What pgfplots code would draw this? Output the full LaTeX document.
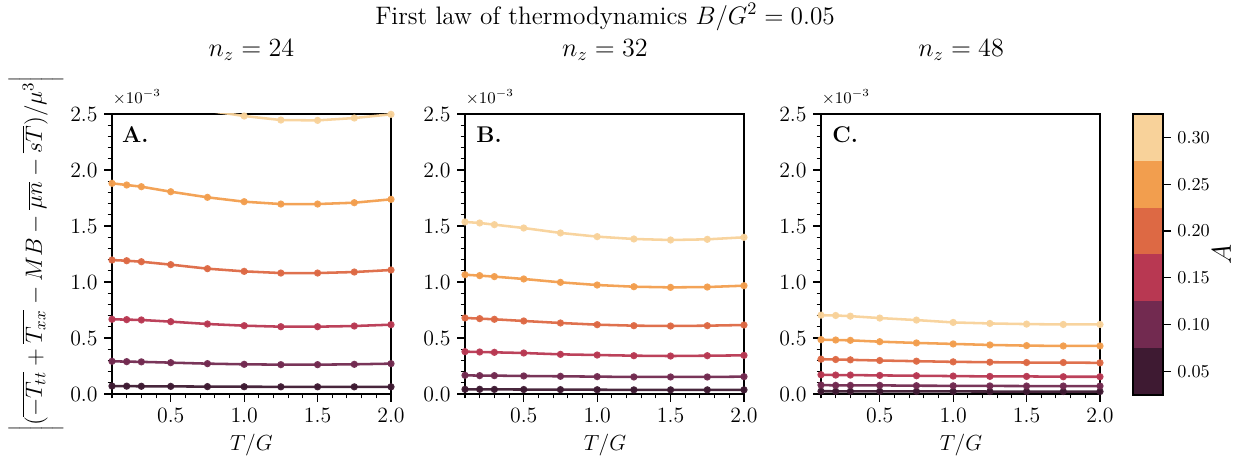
\RequirePackage{fix-cm}
\documentclass[border=0pt]{standalone}
\usepackage{pgfplots}
\usepackage{pgfplotstable}
\pgfplotsset{compat=1.18}

\definecolor{c1}{HTML}{3E1A32}
\definecolor{c2}{HTML}{722A50}
\definecolor{c3}{HTML}{B83852}
\definecolor{c4}{HTML}{DD6944}
\definecolor{c5}{HTML}{F29E4E}
\definecolor{c6}{HTML}{F8D29A}

\pgfplotstableread{
x a1 a2 a3 a4 a5 a6
0.1 0.071 0.292 0.667 1.196 1.881 2.710
0.2 0.070 0.289 0.664 1.190 1.866 2.690
0.3 0.069 0.287 0.661 1.181 1.851 2.665
0.5 0.068 0.280 0.646 1.155 1.806 2.600
0.75 0.066 0.271 0.625 1.119 1.756 2.530
1.0 0.065 0.265 0.610 1.095 1.717 2.482
1.25 0.064 0.262 0.601 1.080 1.696 2.446
1.5 0.064 0.262 0.601 1.080 1.696 2.443
1.75 0.064 0.265 0.607 1.089 1.708 2.464
2.0 0.064 0.271 0.619 1.107 1.738 2.497
}\dataA

\pgfplotstableread{
x a1 a2 a3 a4 a5 a6
0.1 0.042 0.167 0.378 0.679 1.065 1.536
0.2 0.042 0.164 0.375 0.673 1.057 1.527
0.3 0.041 0.164 0.372 0.667 1.048 1.512
0.5 0.040 0.161 0.366 0.652 1.027 1.482
0.75 0.039 0.158 0.354 0.634 0.997 1.438
1.0 0.038 0.155 0.348 0.619 0.973 1.405
1.25 0.037 0.152 0.342 0.610 0.958 1.384
1.5 0.037 0.152 0.339 0.607 0.952 1.375
1.75 0.037 0.152 0.342 0.610 0.955 1.381
2.0 0.037 0.155 0.345 0.616 0.967 1.399
}\dataB

\pgfplotstableread{
x a1 a2 a3 a4 a5 a6
0.1 0.025 0.080 0.172 0.311 0.485 0.704
0.2 0.024 0.077 0.169 0.308 0.482 0.701
0.3 0.024 0.077 0.169 0.305 0.479 0.695
0.5 0.024 0.077 0.166 0.299 0.467 0.678
0.75 0.023 0.074 0.163 0.293 0.456 0.660
1.0 0.023 0.073 0.160 0.287 0.447 0.639
1.25 0.022 0.072 0.157 0.284 0.438 0.630
1.5 0.022 0.071 0.157 0.281 0.432 0.624
1.75 0.022 0.071 0.154 0.281 0.429 0.621
2.0 0.022 0.071 0.154 0.278 0.429 0.621
}\dataC

\pgfplotsset{
  panel/.style={
    scale only axis, width=153.45pt, height=154pt, anchor=north west,
    xmin=0.1, xmax=2.0, ymin=0, ymax=2.5,
    xtick={0.5,1.0,1.5,2.0}, ytick={0,0.5,1.0,1.5,2.0,2.5},
    minor xtick={0.1,0.2,0.3,0.4,0.6,0.7,0.8,0.9,1.1,1.2,1.3,1.4,1.6,1.7,1.8,1.9},
    minor ytick={0.1,0.2,0.3,0.4,0.6,0.7,0.8,0.9,1.1,1.2,1.3,1.4,1.6,1.7,1.8,1.9,2.1,2.2,2.3,2.4},
    xtick pos=lower, ytick pos=left, tick align=outside,
    major tick length=4.4pt, minor tick length=2.4pt,
    every tick/.style={black, line width=0.6pt},
    axis line style={line width=0.8pt},
    scaled ticks=false,
    xticklabel style={/pgf/number format/fixed, /pgf/number format/fixed zerofill, /pgf/number format/precision=1},
    yticklabel style={/pgf/number format/fixed, /pgf/number format/fixed zerofill, /pgf/number format/precision=1},
    tick label style={font=\fontsize{12}{14}\selectfont},
    every axis plot/.append style={line width=1.4pt, mark=*, mark size=1.25pt, opacity=0.95},
  },
}

\begin{document}
\begin{tikzpicture}
\path[use as bounding box] (0,0) rectangle (683.1pt,-253.55pt);

\begin{axis}[panel, at={(61.6pt,-62.7pt)}]
\addplot[c1] table[x=x,y=a1]{\dataA};
\addplot[c2] table[x=x,y=a2]{\dataA};
\addplot[c3] table[x=x,y=a3]{\dataA};
\addplot[c4] table[x=x,y=a4]{\dataA};
\addplot[c5] table[x=x,y=a5]{\dataA};
\addplot[c6] table[x=x,y=a6]{\dataA};
\end{axis}

\begin{axis}[panel, at={(255.75pt,-62.7pt)}]
\addplot[c1] table[x=x,y=a1]{\dataB};
\addplot[c2] table[x=x,y=a2]{\dataB};
\addplot[c3] table[x=x,y=a3]{\dataB};
\addplot[c4] table[x=x,y=a4]{\dataB};
\addplot[c5] table[x=x,y=a5]{\dataB};
\addplot[c6] table[x=x,y=a6]{\dataB};
\end{axis}

\begin{axis}[panel, at={(451.55pt,-62.7pt)}]
\addplot[c1] table[x=x,y=a1]{\dataC};
\addplot[c2] table[x=x,y=a2]{\dataC};
\addplot[c3] table[x=x,y=a3]{\dataC};
\addplot[c4] table[x=x,y=a4]{\dataC};
\addplot[c5] table[x=x,y=a5]{\dataC};
\addplot[c6] table[x=x,y=a6]{\dataC};
\end{axis}

% colorbar
\begin{axis}[scale only axis, width=16.5pt, height=154.5pt, anchor=north west,
  at={(623.15pt,-62.7pt)},
  xmin=0, xmax=1, ymin=0.025, ymax=0.325,
  xtick=\empty, ytick={0.05,0.10,0.15,0.20,0.25,0.30},
  yticklabel pos=right, ytick pos=right, tick align=outside,
  major tick length=4.4pt, every tick/.style={black, line width=0.6pt},
  axis line style={line width=0.8pt}, axis on top,
  yticklabel style={/pgf/number format/fixed, /pgf/number format/fixed zerofill, /pgf/number format/precision=2, font=\fontsize{10}{12}\selectfont},
  scaled ticks=false]
\addplot[draw=none, fill=c1] coordinates {(0,0.025) (1,0.025) (1,0.075) (0,0.075)} -- cycle;
\addplot[draw=none, fill=c2] coordinates {(0,0.075) (1,0.075) (1,0.125) (0,0.125)} -- cycle;
\addplot[draw=none, fill=c3] coordinates {(0,0.125) (1,0.125) (1,0.175) (0,0.175)} -- cycle;
\addplot[draw=none, fill=c4] coordinates {(0,0.175) (1,0.175) (1,0.225) (0,0.225)} -- cycle;
\addplot[draw=none, fill=c5] coordinates {(0,0.225) (1,0.225) (1,0.275) (0,0.275)} -- cycle;
\addplot[draw=none, fill=c6] coordinates {(0,0.275) (1,0.275) (1,0.325) (0,0.325)} -- cycle;
\end{axis}

% texts
\node[font=\fontsize{13.9}{16}\selectfont] at (332.75pt,-9.35pt) {First law of thermodynamics $B/G^2 = 0.05$};
\node[font=\fontsize{14.4}{16}\selectfont] at (138.3pt,-27.5pt) {$n_z = 24$};
\node[font=\fontsize{14.4}{16}\selectfont] at (332.75pt,-27.5pt) {$n_z = 32$};
\node[font=\fontsize{14.4}{16}\selectfont] at (528.6pt,-27.5pt) {$n_z = 48$};

\node[font=\fontsize{12}{15}\selectfont] at (138.3pt,-244.75pt) {$T/G$};
\node[font=\fontsize{12}{15}\selectfont] at (332.75pt,-244.75pt) {$T/G$};
\node[font=\fontsize{12}{15}\selectfont] at (528.6pt,-244.75pt) {$T/G$};

\node[font=\fontsize{12.5}{15}\selectfont\bfseries, anchor=west, inner sep=0pt] at (66.9pt,-74.25pt) {A.};
\node[font=\fontsize{12.5}{15}\selectfont\bfseries, anchor=west, inner sep=0pt] at (261.8pt,-74.25pt) {B.};
\node[font=\fontsize{12.5}{15}\selectfont\bfseries, anchor=west, inner sep=0pt] at (457.6pt,-74.25pt) {C.};

\node[font=\fontsize{9}{11}\selectfont, anchor=west, inner sep=0pt] at (61.9pt,-53.5pt) {$\times10^{-3}$};
\node[font=\fontsize{9}{11}\selectfont, anchor=west, inner sep=0pt] at (256.05pt,-53.5pt) {$\times10^{-3}$};
\node[font=\fontsize{9}{11}\selectfont, anchor=west, inner sep=0pt] at (451.85pt,-53.5pt) {$\times10^{-3}$};

\node[font=\fontsize{12.9}{15}\selectfont, rotate=90, inner sep=0pt] at (19.8pt,-139.7pt)
  {$\left|\vcenter{\hbox{\rule{0pt}{27pt}}}(\overline{-T_{tt}} + \overline{T_{xx}} - MB - \overline{\mu n} - \overline{sT})/\mu^3\right|$};

\node[font=\fontsize{15}{18}\selectfont, rotate=90] at (671.9pt,-140.2pt) {$A$};
\end{tikzpicture}
\end{document}
